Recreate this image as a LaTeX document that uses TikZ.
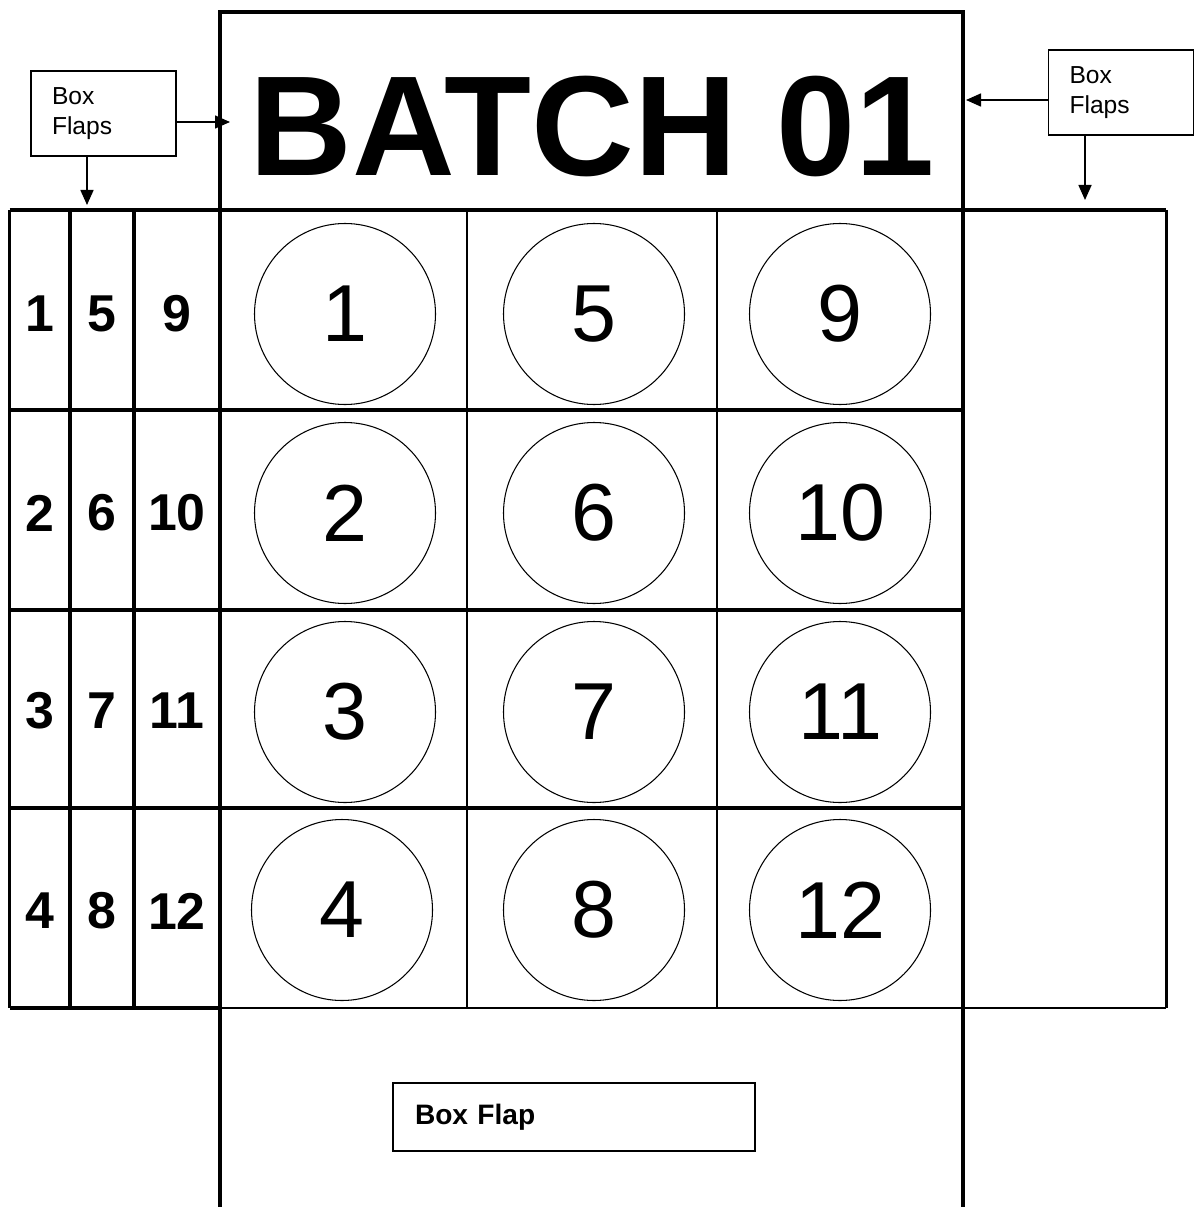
\documentclass[tikz,border=0pt]{standalone}
\usepackage{fontspec}
\setmainfont{Liberation Sans}
\usetikzlibrary{arrows.meta}

\tikzset{
    lubang/.style={draw, circle, line width=0.6pt, minimum size=3.62cm, inner sep=0pt,
                   font=\fontsize{46}{46}\selectfont},
    angka/.style={font=\bfseries\fontsize{29.5}{29.5}\selectfont},
    catatan/.style={draw, line width=0.9pt, align=left, inner xsep=0.42cm,
                    text width=2.06cm, minimum height=1.7cm,
                    font=\fontsize{14}{17}\selectfont}
}

\begin{document}
\begin{tikzpicture}[x=0.2cm, y=-0.2cm, >={Triangle[length=3mm, width=2.6mm]}]
    \useasboundingbox (0,0) rectangle (119.4,120.7);

    % Tutup atas dan sisi kotak
    \draw[line width=2.6pt] (22,120.7) -- (22,1.2) -- (96.3,1.2) -- (96.3,21);
    \draw[line width=1.8pt] (96.3,21) -- (96.3,120.7);

    % Garis mendatar
    \draw[line width=2.6pt] (0.95,21) -- (116.6,21);
    \draw[line width=2.4pt] (0.95,41) -- (96.3,41);
    \draw[line width=2.4pt] (0.95,61) -- (96.3,61);
    \draw[line width=2.4pt] (0.95,80.8) -- (96.3,80.8);
    \draw[line width=2.8pt] (0.95,100.8) -- (22,100.8);
    \draw[line width=1.6pt] (22,100.8) -- (116.6,100.8);

    % Garis tegak
    \draw[line width=1.6pt] (0.95,21) -- (0.95,100.8);
    \draw[line width=2.8pt] (7.0,21) -- (7.0,100.8);
    \draw[line width=2.8pt] (13.4,21) -- (13.4,100.8);
    \draw[line width=1.4pt] (46.7,21) -- (46.7,100.8);
    \draw[line width=1.4pt] (71.7,21) -- (71.7,100.8);
    \draw[line width=1.7pt] (116.6,21) -- (116.6,100.8);

    % Judul
    \node[font=\bfseries\fontsize{81}{81}\selectfont, inner sep=0pt] (judul) at (59.2,12.65)
         {BATCH 01};

    % Lubang bernomor
    \node[lubang] (l1) at (34.5,31.4) {1};
    \node[lubang] (l2) at (34.5,51.3) {2};
    \node[lubang] (l3) at (34.5,71.2) {3};
    \node[lubang] (l4) at (34.2,91.0) {4};
    \node[lubang] (l5) at (59.4,31.4) {5};
    \node[lubang] (l6) at (59.4,51.3) {6};
    \node[lubang] (l7) at (59.4,71.2) {7};
    \node[lubang] (l8) at (59.4,91.0) {8};
    \node[lubang] (l9) at (84.0,31.4) {9};
    \node[lubang] (l10) at (84.0,51.3) {10};
    \node[lubang] (l11) at (84.0,71.2) {11};
    \node[lubang] (l12) at (84.0,91.0) {12};

    % Nomor pada tutup kiri
    \node[angka] (k1) at (4.0,31.4) {1};
    \node[angka] (k5) at (10.2,31.4) {5};
    \node[angka] (k9) at (17.7,31.4) {9};
    \node[angka] (k2) at (4.0,51.3) {2};
    \node[angka] (k6) at (10.2,51.3) {6};
    \node[angka] (k10) at (17.7,51.3) {10};
    \node[angka] (k3) at (4.0,71.1) {3};
    \node[angka] (k7) at (10.2,71.1) {7};
    \node[angka] (k11) at (17.7,71.1) {11};
    \node[angka] (k4) at (4.0,91.1) {4};
    \node[angka] (k8) at (10.2,91.1) {8};
    \node[angka] (k12) at (17.7,91.1) {12};

    % Keterangan tutup
    \node[catatan] (flapL) at (10.35,11.35) {Box\\Flaps};
    \node[catatan] (flapR) at (112.1,9.25) {Box\\Flaps};
    \node[catatan, font=\bfseries\fontsize{16}{19}\selectfont, inner xsep=0.44cm,
          text width=6.36cm, minimum height=1.36cm] (flapB) at (57.4,111.7) {Box Flap};

    % Panah
    \coordinate (ujungLa) at (23.0,12.2);
    \coordinate (ujungLb) at (8.7,20.5);
    \coordinate (ujungRa) at (96.6,10.0);
    \coordinate (ujungRb) at (108.5,20.0);
    \draw[->, line width=0.9pt] (flapL.east |- ujungLa) -- (ujungLa);
    \draw[->, line width=0.9pt] (flapL.south -| ujungLb) -- (ujungLb);
    \draw[->, line width=0.9pt] (flapR.west |- ujungRa) -- (ujungRa);
    \draw[->, line width=0.9pt] (flapR.south -| ujungRb) -- (ujungRb);

\end{tikzpicture}
\end{document}
